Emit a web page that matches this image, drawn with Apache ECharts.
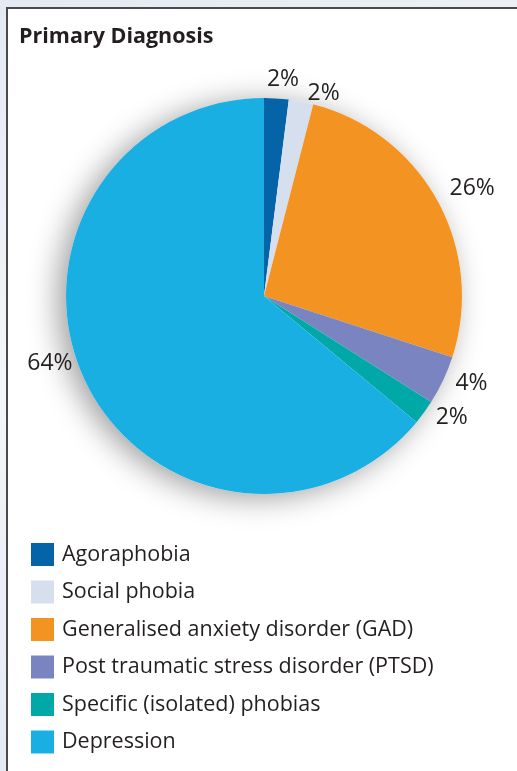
<!DOCTYPE html>
<html>
<head>
<meta charset="utf-8">
<script src="https://cdn.jsdelivr.net/npm/echarts@6/dist/echarts.min.js"></script>
<style>
  html, body { margin: 0; padding: 0; }
  body {
    width: 517px; height: 771px; overflow: hidden; position: relative;
    background: linear-gradient(160deg, #e4eaf2 0%, #f3f6fa 40%, #dde5ef 100%);
  }
  .panel {
    position: absolute; left: 6px; top: 7px; width: 540px; height: 800px;
    border: 2px solid #4a4a4a; background: #fff;
  }
  #chart { position: absolute; left: 0; top: 0; width: 517px; height: 771px; }
</style>
</head>
<body>
<div class="panel"></div>
<div id="chart"></div>
<script>
// diagnosis categories, clockwise from 12 o'clock
const categories = [
  'Agoraphobia',
  'Social phobia',
  'Generalised anxiety disorder (GAD)',
  'Post traumatic stress disorder (PTSD)',
  'Specific (isolated) phobias',
  'Depression'
]
const percents = [2, 2, 26, 4, 2, 64]
const colors = ['#0563a8', '#d5dfee', '#f39322', '#7a84c0', '#00a8a8', '#1aafe3']

const myChart = echarts.init(document.getElementById('chart'))

// small nudges so the outside labels sit where the original put them
function nudgeLabel(params) {
  if (params.dataIndex === 0) return { dx: -15, dy: -11, hideOverlap: false }
  if (params.dataIndex === 2) return { dy: -8, hideOverlap: false }
  if (params.dataIndex === 5) return { dy: -20, hideOverlap: false }
  return { hideOverlap: false }
}

const option = {
  textStyle: { fontFamily: 'Open Sans' },
  title: {
    text: 'Primary Diagnosis',
    left: 19,
    top: 26,
    padding: 0,
    textStyle: { fontSize: 21.5, fontWeight: 'bold', color: '#231f20', fontFamily: 'Open Sans' }
  },
  legend: {
    orient: 'vertical',
    left: 31,
    top: 543,
    padding: 0,
    itemWidth: 23,
    itemHeight: 23,
    itemGap: 14.5,
    icon: 'rect',
    selectedMode: false,
    data: categories,
    textStyle: { fontSize: 21.5, color: '#231f20', padding: [0, 0, 0, 3] }
  },
  color: colors,
  series: [
    {
      // soft drop shadow behind the pie
      type: 'pie',
      silent: true,
      center: [264, 296],
      radius: 198,
      z: 1,
      label: { show: false },
      labelLine: { show: false },
      itemStyle: {
        color: '#fff',
        shadowBlur: 30,
        shadowColor: 'rgba(0,0,0,0.38)',
        shadowOffsetX: -8,
        shadowOffsetY: 4
      },
      data: [1]
    },
    {
      type: 'pie',
      center: [264, 296],
      radius: 198,
      z: 2,
      startAngle: 90,
      clockwise: true,
      avoidLabelOverlap: false,
      label: {
        show: true,
        position: 'outside',
        formatter: '{c}%',
        fontSize: 23,
        color: '#231f20'
      },
      labelLine: { show: false, length: 8, length2: 0 },
      labelLayout: nudgeLabel,
      itemStyle: { borderWidth: 0 },
      emphasis: { disabled: true },
      data: categories.map((name, i) => ({ name: name, value: percents[i] }))
    }
  ]
}

myChart.setOption(option)

window.addEventListener('resize', () => { myChart.resize() })
</script>
</body>
</html>
